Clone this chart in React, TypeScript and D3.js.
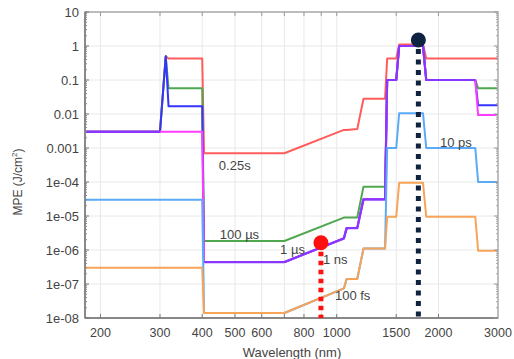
import * as React from 'react';
import * as d3 from 'd3';

// breakpoints shared by every curve (nm)
const wavelengths = [180, 300, 312, 318, 400, 405, 700, 1050, 1070, 1150, 1200, 1390, 1410, 1500, 1530, 1800, 1840, 2570, 2620, 3000];

const mpe025s = [0.003, 0.003, 0.5, 0.43, 0.43, 0.0007, 0.0007, 0.0034, 0.0034, 0.0036, 0.028, 0.028, 0.43, 0.43, 1.1, 1.1, 0.43, 0.43, 0.43, 0.43];
const mpe100us = [0.003, 0.003, 0.5, 0.057, 0.057, 1.84e-6, 1.84e-6, 9e-6, 9e-6, 9e-6, 7.3e-5, 7.3e-5, 0.1, 0.1, 1, 1, 0.1, 0.1, 0.057, 0.057];
const mpe1us = [0.003, 0.003, 0.5, 0.017, 0.017, 4.4e-7, 4.4e-7, 2.2e-6, 4.4e-6, 4.4e-6, 3.1e-5, 3.1e-5, 0.1, 0.1, 1, 1, 0.1, 0.1, 0.018, 0.018];
const mpe1ns = [0.003, 0.003, 0.003, 0.003, 0.003, 4.4e-7, 4.4e-7, 2.2e-6, 4.4e-6, 4.4e-6, 3.1e-5, 3.1e-5, 0.1, 0.1, 1, 1, 0.1, 0.1, 0.0093, 0.0093];
const mpe10ps = [3e-5, 3e-5, 3e-5, 3e-5, 3e-5, 1.4e-8, 1.4e-8, 7.4e-8, 1.4e-7, 1.4e-7, 1.1e-6, 1.1e-6, 1e-3, 1e-3, 0.0105, 0.0105, 1e-3, 1e-3, 1e-4, 1e-4];
const mpe100fs = [3e-7, 3e-7, 3e-7, 3e-7, 3e-7, 1.4e-8, 1.4e-8, 7.4e-8, 1.4e-7, 1.4e-7, 1.1e-6, 1.1e-6, 9.5e-6, 9.5e-6, 9.5e-5, 9.5e-5, 9.5e-6, 9.5e-6, 9.5e-7, 9.5e-7];

const seriesLabels = ['0.25s', '100 µs', '1 µs', '1 ns', '10 ps', '100 fs'];
const seriesValues = [mpe025s, mpe100us, mpe1us, mpe1ns, mpe10ps, mpe100fs];
const seriesColours = ['#ff5c5c', '#4fa84f', '#3434ff', '#ff3cff', '#5aaaf8', '#f7a358'];
// where each label starts: [wavelength, value at baseline]
const labelAnchors = [[448, 2.25e-4], [451, 2.1e-6], [680, 7.6e-7], [911, 3.9e-7], [2020, 1.07e-3], [988, 3.4e-8]];

const xTickValues = [200, 300, 400, 500, 600, 800, 1000, 1500, 2000, 3000];
const xGridValues = [200, 300, 400, 500, 600, 700, 800, 900, 1000, 1500, 2000];
const yTickValues = [1e-8, 1e-7, 1e-6, 1e-5, 1e-4, 1e-3, 1e-2, 1e-1, 1, 10];
const yTickLabels = ['1e-08', '1e-07', '1e-06', '1e-05', '1e-04', '0.001', '0.01', '0.1', '1', '10'];

// highlighted points: [wavelength, value]
const redMarker = [898, 1.64e-6];
const navyMarker = [1744, 1.5];

const width = 514;
const height = 359;
const left = 85, right = 498, top = 12, bottom = 318;
const font = 'Liberation Sans, Arial, sans-serif';

export default function App() {
    const x = d3.scaleLog().domain([180, 3000]).range([left, right]);
    const y = d3.scaleLog().domain([1e-8, 10]).range([bottom, top]);

    const line = d3.line<[number, number]>()
        .x(d => x(d[0]))
        .y(d => y(d[1]));

    const minorY: number[] = [];
    yTickValues.slice(0, -1).forEach(v => {
        for (let k = 2; k < 10; k++) minorY.push(v * k);
    });

    // runs where the 1 µs and 1 ns curves coincide, drawn in a blended colour
    const sharedRuns: [number, number][][] = [];
    let run: [number, number][] = [];
    wavelengths.forEach((w, j) => {
        if (mpe1us[j] === mpe1ns[j]) {
            run.push([w, mpe1us[j]]);
        } else {
            if (run.length > 1) sharedRuns.push(run);
            run = [];
        }
    });
    if (run.length > 1) sharedRuns.push(run);
    const blended = d3.interpolateRgb(seriesColours[2], seriesColours[3])(0.42);

    return (
        <svg width={width} height={height} style={{ position: 'absolute', left: 0, top: 0, background: '#fff' }}
            fontFamily={font}>
            {/* grid */}
            {xGridValues.map(v => (
                <line key={'gx' + v} x1={x(v)} x2={x(v)} y1={top} y2={bottom} stroke="#e8e8e8" strokeWidth={1} />
            ))}
            {yTickValues.map(v => (
                <line key={'gy' + v} x1={left} x2={right} y1={y(v)} y2={y(v)} stroke="#e8e8e8" strokeWidth={1} />
            ))}

            {/* curves */}
            {seriesValues.map((vals, i) => (
                <path key={seriesLabels[i]}
                    d={line(wavelengths.map((w, j) => [w, vals[j]] as [number, number])) || ''}
                    fill="none" stroke={seriesColours[i]} strokeWidth={2}
                    strokeLinejoin="round" />
            )).slice(0, 4)}
            {sharedRuns.map((r, k) => (
                <path key={'shared' + k} d={line(r) || ''} fill="none" stroke={blended} strokeWidth={2.2}
                    strokeLinejoin="round" />
            ))}
            {seriesValues.map((vals, i) => (
                <path key={seriesLabels[i]}
                    d={line(wavelengths.map((w, j) => [w, vals[j]] as [number, number])) || ''}
                    fill="none" stroke={seriesColours[i]} strokeWidth={2}
                    strokeLinejoin="round" />
            )).slice(4)}

            {/* labels */}
            {seriesLabels.map((t, i) => (
                <text key={'l' + t} x={x(labelAnchors[i][0])} y={y(labelAnchors[i][1])}
                    fontSize={13} fill="#444">{t}</text>
            ))}

            {/* frame */}
            <rect x={left} y={top} width={right - left} height={bottom - top} fill="none" stroke="#aaa" strokeWidth={1.5} />
            <line x1={left} x2={left} y1={top} y2={bottom} stroke="#777" strokeWidth={1.5} />
            <line x1={left} x2={right} y1={bottom} y2={bottom} stroke="#777" strokeWidth={1.5} />

            {/* ticks */}
            {yTickValues.map(v => (
                <g key={'ty' + v}>
                    <line x1={left} x2={left + 4} y1={y(v)} y2={y(v)} stroke="#777" />
                    <line x1={right} x2={right - 4} y1={y(v)} y2={y(v)} stroke="#999" />
                </g>
            ))}
            {minorY.map(v => (
                <g key={'my' + v}>
                    <line x1={left} x2={left + 2} y1={y(v)} y2={y(v)} stroke="#888" />
                    <line x1={right} x2={right - 2} y1={y(v)} y2={y(v)} stroke="#aaa" />
                </g>
            ))}
            {xGridValues.map(v => (
                <g key={'tx' + v}>
                    <line x1={x(v)} x2={x(v)} y1={bottom} y2={bottom - 4} stroke="#777" />
                    <line x1={x(v)} x2={x(v)} y1={top} y2={top + 4} stroke="#999" />
                </g>
            ))}

            {/* tick labels */}
            {yTickValues.map((v, i) => (
                <text key={'yl' + v} x={left - 6} y={y(v)} dy="0.35em" textAnchor="end" fontSize={13} fill="#444">
                    {yTickLabels[i]}
                </text>
            ))}
            {xTickValues.map(v => (
                <text key={'xl' + v} x={x(v)} y={bottom + 19} textAnchor="middle" fontSize={12.5} fill="#444">{v}</text>
            ))}

            {/* axis titles */}
            <text x={292} y={357} textAnchor="middle" fontSize={13} fill="#444">Wavelength (nm)</text>
            <text transform="translate(22,182) rotate(-90)" textAnchor="middle" fontSize={12} fill="#444">
                MPE (J/cm<tspan dy="-5" fontSize={8}>2</tspan><tspan dy="5">)</tspan>
            </text>

            {/* markers */}
            <line x1={x(redMarker[0])} x2={x(redMarker[0])} y1={y(redMarker[1]) + 9} y2={bottom}
                stroke="#ff1010" strokeWidth={5} strokeDasharray="4.5,4.5" />
            <circle cx={x(redMarker[0])} cy={y(redMarker[1])} r={7.5} fill="#ff1010" />
            <line x1={x(navyMarker[0])} x2={x(navyMarker[0])} y1={y(navyMarker[1]) + 9} y2={bottom}
                stroke="#0f2240" strokeWidth={5} strokeDasharray="5,5.5" />
            <circle cx={x(navyMarker[0])} cy={y(navyMarker[1])} r={7.5} fill="#0f2240" />
        </svg>
    );
}
